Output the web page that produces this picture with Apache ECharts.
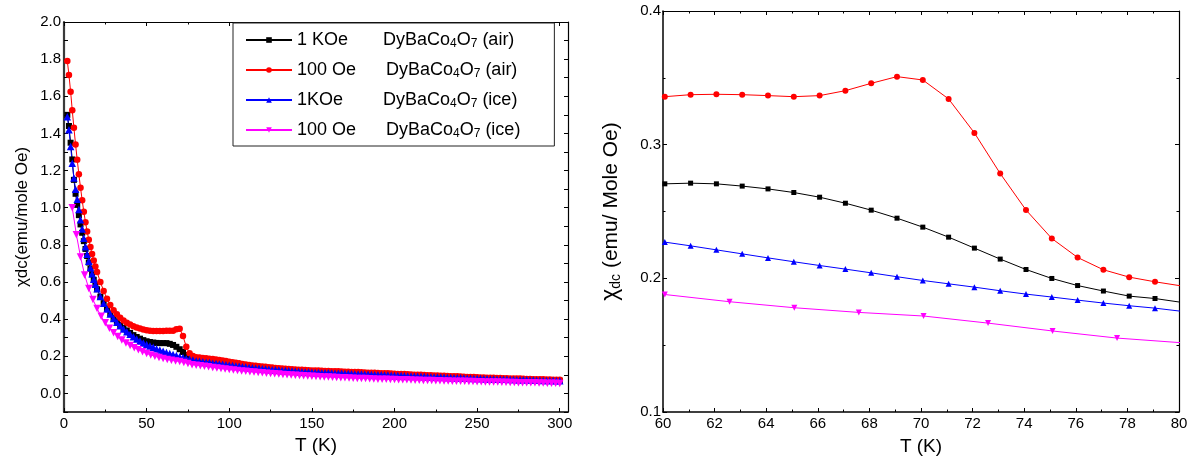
<!DOCTYPE html>
<html>
<head>
<meta charset="utf-8">
<script src="https://cdn.jsdelivr.net/npm/echarts@6/dist/echarts.min.js"></script>
<style>
  html, body { margin: 0; padding: 0; background: #ffffff; }
  #chart { width: 1192px; height: 461px; }
</style>
</head>
<body>
<div id="chart"></div>
<script>
// ---- Full temperature sweep (left panel) ----
const tempsAir = [
  2, 3, 4, 5, 6, 7, 8, 9, 10, 11, 12, 13, 14, 15, 16, 17, 18, 19, 20,
  22, 24, 26, 28, 30, 32, 34, 36, 38, 40, 42, 44, 46, 48, 50, 52, 54, 56, 58, 60,
  62, 64, 66, 68, 70, 72, 74, 76, 78, 80,
  82, 84, 86, 88, 90, 92, 94, 96, 98, 100,
  102, 104, 106, 108, 110, 112, 114, 116, 118, 120, 122, 124, 126, 128, 130, 132, 134, 136, 138, 140, 142, 144, 146, 148, 150,
  152, 154, 156, 158, 160, 162, 164, 166, 168, 170, 172, 174, 176, 178, 180, 182, 184, 186, 188, 190, 192, 194, 196, 198, 200,
  202, 204, 206, 208, 210, 212, 214, 216, 218, 220, 222, 224, 226, 228, 230, 232, 234, 236, 238, 240, 242, 244, 246, 248, 250,
  252, 254, 256, 258, 260, 262, 264, 266, 268, 270, 272, 274, 276, 278, 280, 282, 284, 286, 288, 290, 292, 294, 296, 298, 300
];

const chiAir1kOe = [
  1.500, 1.440, 1.350, 1.260, 1.150, 1.075, 1.015, 0.960, 0.910, 0.865, 0.820, 0.778, 0.740, 0.705, 0.672, 0.641, 0.612, 0.586, 0.561,
  0.521, 0.486, 0.456, 0.430, 0.407, 0.387, 0.369, 0.353, 0.339, 0.326, 0.314, 0.304, 0.295, 0.287, 0.281, 0.277, 0.274, 0.272, 0.271, 0.271,
  0.271, 0.267, 0.261, 0.251, 0.238, 0.223, 0.207, 0.195, 0.187, 0.182,
  0.178, 0.175, 0.172, 0.170, 0.167, 0.164, 0.162, 0.159, 0.157, 0.154,
  0.151, 0.149, 0.147, 0.145, 0.143, 0.141, 0.139, 0.137, 0.136, 0.134, 0.132, 0.131, 0.129, 0.128, 0.127, 0.125, 0.124, 0.123, 0.122, 0.121, 0.119, 0.118, 0.117, 0.116, 0.115,
  0.114, 0.114, 0.113, 0.112, 0.112, 0.111, 0.110, 0.110, 0.109, 0.108, 0.108, 0.107, 0.106, 0.106, 0.105, 0.104, 0.104, 0.103, 0.102, 0.102, 0.101, 0.100, 0.100, 0.099, 0.098,
  0.097, 0.097, 0.096, 0.095, 0.095, 0.094, 0.093, 0.093, 0.092, 0.091, 0.091, 0.090, 0.089, 0.089, 0.088, 0.087, 0.087, 0.086, 0.085, 0.085, 0.084, 0.083, 0.083, 0.082, 0.081,
  0.081, 0.080, 0.080, 0.079, 0.079, 0.078, 0.078, 0.077, 0.077, 0.076, 0.076, 0.075, 0.075, 0.074, 0.074, 0.073, 0.073, 0.072, 0.072, 0.071, 0.071, 0.070, 0.070, 0.069, 0.069
];

const chiAir100Oe = [
  1.790, 1.715, 1.625, 1.525, 1.430, 1.340, 1.258, 1.180, 1.108, 1.040, 0.978, 0.922, 0.872, 0.828, 0.788, 0.751, 0.716, 0.684, 0.654,
  0.600, 0.552, 0.510, 0.476, 0.448, 0.426, 0.408, 0.393, 0.381, 0.371, 0.362, 0.355, 0.349, 0.344, 0.340, 0.337, 0.336, 0.336, 0.336, 0.336,
  0.338, 0.337, 0.337, 0.346, 0.348, 0.309, 0.251, 0.216, 0.201, 0.195,
  0.193, 0.191, 0.189, 0.187, 0.185, 0.183, 0.180, 0.177, 0.174, 0.171,
  0.168, 0.165, 0.162, 0.159, 0.156, 0.153, 0.151, 0.149, 0.147, 0.145, 0.143, 0.141, 0.139, 0.137, 0.136, 0.134, 0.133, 0.132, 0.130, 0.129, 0.128, 0.127, 0.126, 0.125, 0.124,
  0.123, 0.123, 0.122, 0.121, 0.121, 0.120, 0.119, 0.119, 0.118, 0.117, 0.117, 0.116, 0.115, 0.115, 0.114, 0.113, 0.112, 0.112, 0.111, 0.110, 0.109, 0.109, 0.108, 0.107, 0.106,
  0.105, 0.105, 0.104, 0.103, 0.102, 0.101, 0.101, 0.100, 0.099, 0.098, 0.098, 0.097, 0.096, 0.095, 0.095, 0.094, 0.093, 0.092, 0.092, 0.091, 0.090, 0.089, 0.089, 0.088, 0.087,
  0.086, 0.086, 0.085, 0.085, 0.084, 0.083, 0.083, 0.082, 0.082, 0.081, 0.081, 0.080, 0.080, 0.079, 0.078, 0.078, 0.077, 0.077, 0.076, 0.076, 0.075, 0.075, 0.074, 0.074, 0.073
];

const chiIce1kOe = [
  1.490, 1.420, 1.330, 1.240, 1.160, 1.100, 1.045, 0.990, 0.935, 0.885, 0.835, 0.790, 0.750, 0.712, 0.677, 0.645, 0.615, 0.588, 0.563,
  0.522, 0.486, 0.455, 0.428, 0.404, 0.383, 0.364, 0.347, 0.332, 0.318, 0.305, 0.293, 0.282, 0.272, 0.263, 0.255, 0.248, 0.241, 0.234, 0.227,
  0.221, 0.215, 0.210, 0.204, 0.198, 0.193, 0.188, 0.184, 0.180, 0.175,
  0.173, 0.170, 0.168, 0.166, 0.163, 0.161, 0.159, 0.157, 0.154, 0.152,
  0.150, 0.148, 0.146, 0.144, 0.142, 0.140, 0.138, 0.136, 0.135, 0.133, 0.131, 0.130, 0.128, 0.127, 0.126, 0.124, 0.123, 0.122, 0.121, 0.120, 0.118, 0.117, 0.116, 0.115, 0.114,
  0.113, 0.113, 0.112, 0.111, 0.111, 0.110, 0.109, 0.109, 0.108, 0.107, 0.107, 0.106, 0.105, 0.105, 0.104, 0.103, 0.103, 0.102, 0.101, 0.101, 0.100, 0.099, 0.099, 0.098, 0.097,
  0.096, 0.096, 0.095, 0.094, 0.094, 0.093, 0.092, 0.092, 0.091, 0.090, 0.090, 0.089, 0.088, 0.088, 0.087, 0.086, 0.086, 0.085, 0.084, 0.084, 0.083, 0.082, 0.082, 0.081, 0.080,
  0.080, 0.079, 0.079, 0.078, 0.078, 0.077, 0.077, 0.076, 0.076, 0.075, 0.075, 0.074, 0.074, 0.073, 0.073, 0.072, 0.072, 0.071, 0.071, 0.070, 0.070, 0.069, 0.069, 0.068, 0.068
];

// The 100 Oe ice run was sampled every 2.5 K
const tempsIce100 = [
  5, 7.5, 10, 12.5, 15, 17.5, 20, 22.5, 25, 27.5, 30, 32.5, 35, 37.5, 40, 42.5, 45, 47.5, 50, 52.5,
  55, 57.5, 60, 62.5, 65, 67.5, 70, 72.5, 75, 77.5, 80, 82.5, 85, 87.5, 90, 92.5, 95, 97.5, 100,
  102.5, 105, 107.5, 110, 112.5, 115, 117.5, 120, 122.5, 125, 127.5, 130, 132.5, 135, 137.5, 140, 142.5, 145, 147.5, 150,
  152.5, 155, 157.5, 160, 162.5, 165, 167.5, 170, 172.5, 175, 177.5, 180, 182.5, 185, 187.5, 190, 192.5, 195, 197.5, 200,
  202.5, 205, 207.5, 210, 212.5, 215, 217.5, 220, 222.5, 225, 227.5, 230, 232.5, 235, 237.5, 240, 242.5, 245, 247.5, 250,
  252.5, 255, 257.5, 260, 262.5, 265, 267.5, 270, 272.5, 275, 277.5, 280, 282.5, 285, 287.5, 290, 292.5, 295, 297.5, 300
];
const chiIce100Oe = [
  1.000, 0.855, 0.735, 0.638, 0.565, 0.506, 0.457, 0.415, 0.380, 0.351, 0.327, 0.306, 0.288, 0.272, 0.258, 0.246, 0.235, 0.224, 0.215, 0.207,
  0.200, 0.194, 0.188, 0.183, 0.178, 0.175, 0.172, 0.167, 0.161, 0.155, 0.152, 0.149, 0.146, 0.143, 0.140, 0.137, 0.134, 0.131, 0.129,
  0.126, 0.124, 0.121, 0.119, 0.117, 0.115, 0.113, 0.111, 0.109, 0.107, 0.106, 0.104, 0.102, 0.101, 0.099, 0.098, 0.096, 0.095, 0.094, 0.092,
  0.091, 0.090, 0.089, 0.088, 0.087, 0.086, 0.085, 0.084, 0.083, 0.082, 0.081, 0.080, 0.080, 0.079, 0.078, 0.077, 0.077, 0.076, 0.075, 0.075,
  0.074, 0.073, 0.073, 0.072, 0.071, 0.071, 0.070, 0.070, 0.069, 0.068, 0.068, 0.067, 0.067, 0.066, 0.066, 0.065, 0.065, 0.064, 0.064, 0.063,
  0.063, 0.062, 0.062, 0.061, 0.061, 0.060, 0.060, 0.059, 0.059, 0.058, 0.058, 0.058, 0.057, 0.057, 0.056, 0.056, 0.055, 0.055, 0.055, 0.054
];

// ---- Detailed scan around the transition (right panel) ----
const tempsZoom = [
  60.07, 61.07, 62.07, 63.07, 64.07, 65.07, 66.07, 67.07, 68.07, 69.07,
  70.07, 71.07, 72.07, 73.07, 74.07, 75.07, 76.07, 77.07, 78.07, 79.07, 80.07
];
const zoomAir1kOe = [
  0.2707, 0.2712, 0.2707, 0.2690, 0.2669, 0.2642, 0.2607, 0.2562, 0.2510, 0.2450,
  0.2383, 0.2308, 0.2226, 0.2144, 0.2066, 0.1999, 0.1946, 0.1905, 0.1867, 0.1849, 0.1821
];
const zoomAir100Oe = [
  0.3359, 0.3374, 0.3377, 0.3374, 0.3367, 0.3359, 0.3367, 0.3404, 0.3459, 0.3509,
  0.3484, 0.3342, 0.3088, 0.2784, 0.2511, 0.2298, 0.2156, 0.2064, 0.2009, 0.1974, 0.1944
];
const zoomIce1kOe = [
  0.2271, 0.2243, 0.2213, 0.2183, 0.2153, 0.2124, 0.2096, 0.2069, 0.2041, 0.2012,
  0.1984, 0.1959, 0.1934, 0.1907, 0.1882, 0.1860, 0.1837, 0.1815, 0.1795, 0.1777, 0.1754
];
const tempsZoomIce100 = [60.07, 62.58, 65.09, 67.59, 70.1, 72.6, 75.1, 77.6, 80.1];
const zoomIce100Oe = [0.1879, 0.1825, 0.1780, 0.1745, 0.1718, 0.1665, 0.1606, 0.1553, 0.1518];

// ---- Axis ticks ----
const leftTempTicks = [0, 50, 100, 150, 200, 250, 300];
const rightTempTicks = [60, 62, 64, 66, 68, 70, 72, 74, 76, 78, 80];

const seriesNames = [
  '1 KOe DyBaCo4O7 (air)',
  '100 Oe DyBaCo4O7 (air)',
  '1KOe DyBaCo4O7 (ice)',
  '100 Oe DyBaCo4O7 (ice)'
];
const legendText = {
  '1 KOe DyBaCo4O7 (air)': '{k1|1 KOe}{t|DyBaCo}{s|4}{t|O}{s|7}{t| (air)}',
  '100 Oe DyBaCo4O7 (air)': '{k2|100 Oe}{t|DyBaCo}{s|4}{t|O}{s|7}{t| (air)}',
  '1KOe DyBaCo4O7 (ice)': '{k1|1KOe}{t|DyBaCo}{s|4}{t|O}{s|7}{t| (ice)}',
  '100 Oe DyBaCo4O7 (ice)': '{k2|100 Oe}{t|DyBaCo}{s|4}{t|O}{s|7}{t| (ice)}'
};

const FONT = '"Liberation Sans", Arial, Helvetica, sans-serif';
const colors = ['#000000', '#ff0000', '#0000ff', '#ff00ff'];
const symbols = ['rect', 'circle', 'triangle', 'path://M0,0 L10,0 L5,9 Z'];

function pairs(xs, ys) {
  return xs.map((x, i) => [x, ys[i]]);
}

function lineSeries(idx, xs, ys, panel, size) {
  return {
    name: seriesNames[idx],
    type: 'line',
    xAxisIndex: panel * 2,
    yAxisIndex: panel * 2,
    data: pairs(xs, ys),
    symbol: symbols[idx],
    symbolSize: size,
    showAllSymbol: true,
    clip: true,
    animation: false,
    lineStyle: { color: colors[idx], width: 1 },
    itemStyle: { color: colors[idx] },
    emphasis: { disabled: true }
  };
}

function tickSet(show) {
  return {
    axisTick: { show: true, inside: true, length: 4, lineStyle: { color: '#000', width: 1 } },
    minorTick: { show: show, splitNumber: 2, length: 2.5, lineStyle: { color: '#000', width: 1 } },
    splitLine: { show: false },
    minorSplitLine: { show: false }
  };
}

const labelStyle = { color: '#000', fontSize: 15, fontFamily: FONT };

const option = {
  backgroundColor: '#ffffff',
  animation: false,
  grid: [
    { left: 64, top: 22, width: 504, height: 390, show: false },
    { left: 663, top: 11, width: 516, height: 401, show: false }
  ],
  legend: {
    show: true,
    orient: 'vertical',
    left: 233,
    top: 23,
    data: seriesNames,
    itemWidth: 46,
    itemHeight: 7,
    itemGap: 10,
    padding: [7, 34, 6, 12],
    borderColor: '#222',
    borderWidth: 1,
    backgroundColor: '#ffffff',
    selectedMode: false,
    formatter: (name) => legendText[name],
    textStyle: {
      color: '#000',
      fontSize: 18,
      fontFamily: FONT,
      lineHeight: 20,
      rich: {
        k1: { fontSize: 18, fontFamily: FONT, color: '#000', width: 86, lineHeight: 20 },
        k2: { fontSize: 18, fontFamily: FONT, color: '#000', width: 89, lineHeight: 20 },
        t: { fontSize: 18, fontFamily: FONT, color: '#000', lineHeight: 20 },
        s: { fontSize: 12, fontFamily: FONT, color: '#000', lineHeight: 10, verticalAlign: 'bottom' }
      }
    }
  },
  xAxis: [
    Object.assign({
      gridIndex: 0, type: 'value', position: 'bottom',
      min: leftTempTicks[0], max: 305, interval: 50,
      axisLine: { onZero: false, lineStyle: { color: '#000', width: 1.5 } },
      axisLabel: Object.assign({ margin: 4, showMaxLabel: false,
        formatter: (v) => (leftTempTicks.indexOf(v) >= 0 ? String(v) : '') }, labelStyle),
      name: 'T (K)', nameLocation: 'middle', nameGap: 24,
      nameTextStyle: { color: '#000', fontSize: 19, fontFamily: FONT }
    }, tickSet(true)),
    Object.assign({
      gridIndex: 0, type: 'value', position: 'top',
      min: 0, max: 305, interval: 50,
      axisLine: { onZero: false, lineStyle: { color: '#000', width: 1.2 } },
      axisLabel: { show: false }
    }, tickSet(true)),
    Object.assign({
      gridIndex: 1, type: 'value', position: 'bottom',
      min: rightTempTicks[0], max: rightTempTicks[rightTempTicks.length - 1], interval: 2,
      axisLine: { onZero: false, lineStyle: { color: '#000', width: 1.5 } },
      axisLabel: Object.assign({ margin: 4 }, labelStyle),
      name: 'T (K)', nameLocation: 'middle', nameGap: 25,
      nameTextStyle: { color: '#000', fontSize: 19, fontFamily: FONT }
    }, tickSet(true)),
    Object.assign({
      gridIndex: 1, type: 'value', position: 'top',
      min: 60, max: 80, interval: 2,
      axisLine: { onZero: false, lineStyle: { color: '#000', width: 1.2 } },
      axisLabel: { show: false }
    }, tickSet(true))
  ],
  yAxis: [
    Object.assign({
      gridIndex: 0, type: 'value', position: 'left',
      min: -0.1, max: 2.0, interval: 0.1,
      axisLine: { onZero: false, lineStyle: { color: '#3a3a3a', width: 2.2 } },
      axisLabel: Object.assign({ margin: 3,
        formatter: (v) => {
          const k = Math.round(v * 10);
          return k % 2 === 0 ? (k / 10).toFixed(1) : '';
        } }, labelStyle),
      name: 'χdc(emu/mole Oe)', nameLocation: 'middle', nameGap: 33,
      nameTextStyle: { color: '#000', fontSize: 17, fontFamily: FONT }
    }, tickSet(false)),
    Object.assign({
      gridIndex: 0, type: 'value', position: 'right',
      min: -0.1, max: 2.0, interval: 0.1,
      axisLine: { onZero: false, lineStyle: { color: '#000', width: 1.2 } },
      axisLabel: { show: false }
    }, tickSet(false)),
    Object.assign({
      gridIndex: 1, type: 'value', position: 'left',
      min: 0.1, max: 0.4, interval: 0.1,
      axisLine: { onZero: false, lineStyle: { color: '#000', width: 1.5 } },
      axisLabel: Object.assign({ margin: 2, formatter: (v) => v.toFixed(1) }, labelStyle),
      name: '{c|χ}{d|dc}{n| (emu/ Mole Oe)}', nameLocation: 'middle', nameGap: 40,
      nameTextStyle: {
        color: '#000', fontSize: 21, fontFamily: FONT,
        rich: {
          c: { fontSize: 23, fontFamily: FONT, color: '#000', lineHeight: 24 },
          d: { fontSize: 14, fontFamily: FONT, color: '#000', lineHeight: 12, verticalAlign: 'bottom' },
          n: { fontSize: 21, fontFamily: FONT, color: '#000', lineHeight: 24 }
        }
      }
    }, tickSet(true)),
    Object.assign({
      gridIndex: 1, type: 'value', position: 'right',
      min: 0.1, max: 0.4, interval: 0.1,
      axisLine: { onZero: false, lineStyle: { color: '#000', width: 1.2 } },
      axisLabel: { show: false }
    }, tickSet(true))
  ],
  series: [
    lineSeries(0, tempsAir, chiAir1kOe, 0, 6),
    lineSeries(1, tempsAir, chiAir100Oe, 0, 6.5),
    lineSeries(2, tempsAir, chiIce1kOe, 0, 7.5),
    lineSeries(3, tempsIce100, chiIce100Oe, 0, 7.5),
    lineSeries(0, tempsZoom, zoomAir1kOe, 1, 5),
    lineSeries(1, tempsZoom, zoomAir100Oe, 1, 6),
    lineSeries(2, tempsZoom, zoomIce1kOe, 1, 6),
    lineSeries(3, tempsZoomIce100, zoomIce100Oe, 1, 6)
  ]
};

const chart = echarts.init(document.getElementById('chart'), null, { renderer: 'canvas' });
chart.setOption(option);
</script>
</body>
</html>
